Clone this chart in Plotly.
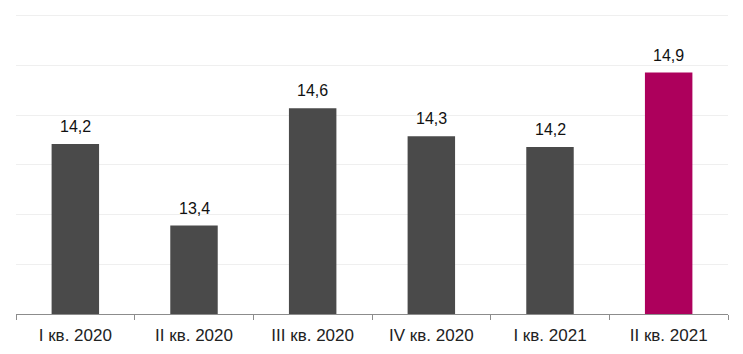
import plotly.graph_objects as go

categories = ["I кв. 2020", "II кв. 2020", "III кв. 2020", "IV кв. 2020", "I кв. 2021", "II кв. 2021"]
values = [14.21, 13.39, 14.57, 14.29, 14.18, 14.93]
labels = ["14,2", "13,4", "14,6", "14,3", "14,2", "14,9"]
colors = ["#4a4a4a", "#4a4a4a", "#4a4a4a", "#4a4a4a", "#4a4a4a", "#ad005c"]

fig = go.Figure()
fig.add_trace(go.Bar(x=categories, y=values, marker_color=colors, marker_line_width=0,
                     hoverinfo="skip"))

for c, v, t in zip(categories, values, labels):
    fig.add_annotation(x=c, y=v, text=t, showarrow=False, yanchor="bottom", yshift=7,
                       font=dict(family="Liberation Sans, Arial", size=16, color="#111111"))

fig.update_layout(
    width=743, height=354,
    margin=dict(l=16, r=15, t=6, b=40),
    paper_bgcolor="white", plot_bgcolor="white",
    bargap=0.6, showlegend=False,
    font=dict(family="Liberation Sans, Arial", size=16, color="#222222"),
)
fig.update_xaxes(showline=True, linecolor="#8c8c8c", linewidth=1,
                 ticks="outside", tickson="boundaries", ticklen=5, tickcolor="#8c8c8c",
                 ticklabelstandoff=6,
                 tickfont=dict(size=17, color="#222222"), showgrid=False)
fig.update_yaxes(range=[12.5, 15.6], dtick=0.5, showticklabels=False, showgrid=True,
                 gridcolor="#efefef", gridwidth=1, zeroline=False, showline=False)

fig.write_html("out.html")
